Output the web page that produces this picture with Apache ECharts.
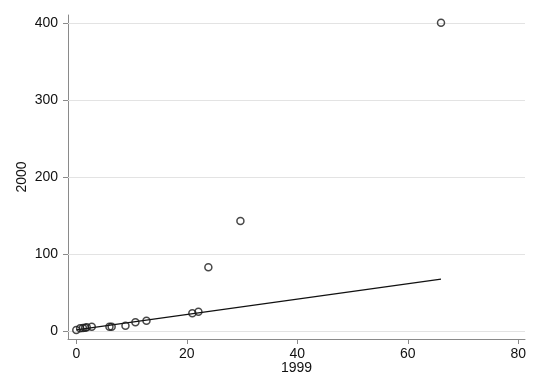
<!DOCTYPE html>
<html>
<head>
<meta charset="utf-8">
<script src="https://cdn.jsdelivr.net/npm/echarts@6/dist/echarts.min.js"></script>
<style>html,body{margin:0;padding:0;background:#fff}#c{width:540px;height:392px}</style>
</head>
<body>
<div id="c"></div>
<script>
var x1999 = [0, 0.7, 1.2, 1.6, 1.9, 2.8, 6.0, 6.4, 8.9, 10.7, 12.7, 21.0, 22.1, 23.9, 29.7, 66.0];
var y2000 = [1.3, 3.5, 3.9, 4.3, 4.8, 5.6, 5.6, 5.6, 6.9, 11.3, 13.4, 23, 25, 83, 143, 401];
var fitX = [0, 66];
var fitY = [1.5, 67.5];
var xTicks = [0, 20, 40, 60, 80];
var yTicks = [0, 100, 200, 300, 400];

var pts = x1999.map(function (v, i) { return [v, y2000[i]]; });
var fit = fitX.map(function (v, i) { return [v, fitY[i]]; });
var font = '"Liberation Sans", Arial, sans-serif';
var axisGray = '#8a8a8a';

var chart = echarts.init(document.getElementById('c'), null, {renderer: 'canvas'});
chart.setOption({
  animation: false,
  backgroundColor: '#fff',
  grid: {left: 68, right: 15, top: 15, bottom: 53, containLabel: false},
  xAxis: {
    type: 'value', min: -1.5, max: 81.2,
    name: '1999', nameLocation: 'middle', nameGap: 22, nameMoveOverlap: false,
    nameTextStyle: {fontFamily: font, fontSize: 14, color: '#111'},
    axisLine: {show: true, onZero: false, lineStyle: {color: axisGray, width: 1}},
    axisTick: {show: true, length: 5, customValues: xTicks, lineStyle: {color: axisGray}},
    axisLabel: {customValues: xTicks, fontFamily: font, fontSize: 14, color: '#111', margin: 8},
    splitLine: {show: false}
  },
  yAxis: {
    type: 'value', min: -10.4, max: 411,
    name: '2000', nameLocation: 'middle', nameGap: 39, nameRotate: 90, nameMoveOverlap: false,
    nameTextStyle: {fontFamily: font, fontSize: 14, color: '#111'},
    axisLine: {show: true, onZero: false, lineStyle: {color: axisGray, width: 1}},
    axisTick: {show: true, length: 5, customValues: yTicks, lineStyle: {color: axisGray}},
    axisLabel: {customValues: yTicks, fontFamily: font, fontSize: 14, color: '#111', margin: 10},
    splitLine: {show: false}
  },
  series: [
    {
      type: 'line', data: fit, symbol: 'none', silent: true, z: 3,
      lineStyle: {color: '#111', width: 1.2},
      markLine: {
        silent: true, symbol: 'none', label: {show: false},
        lineStyle: {color: '#e3e3e3', width: 1, type: 'solid'},
        data: yTicks.map(function (v) { return {yAxis: v}; }),
        z: 1
      }
    },
    {
      type: 'scatter', data: pts, symbol: 'circle', symbolSize: 7, z: 4,
      itemStyle: {color: 'rgba(255,255,255,0)', borderColor: '#1a1a1a', borderWidth: 1.5}
    }
  ]
});
</script>
</body>
</html>
